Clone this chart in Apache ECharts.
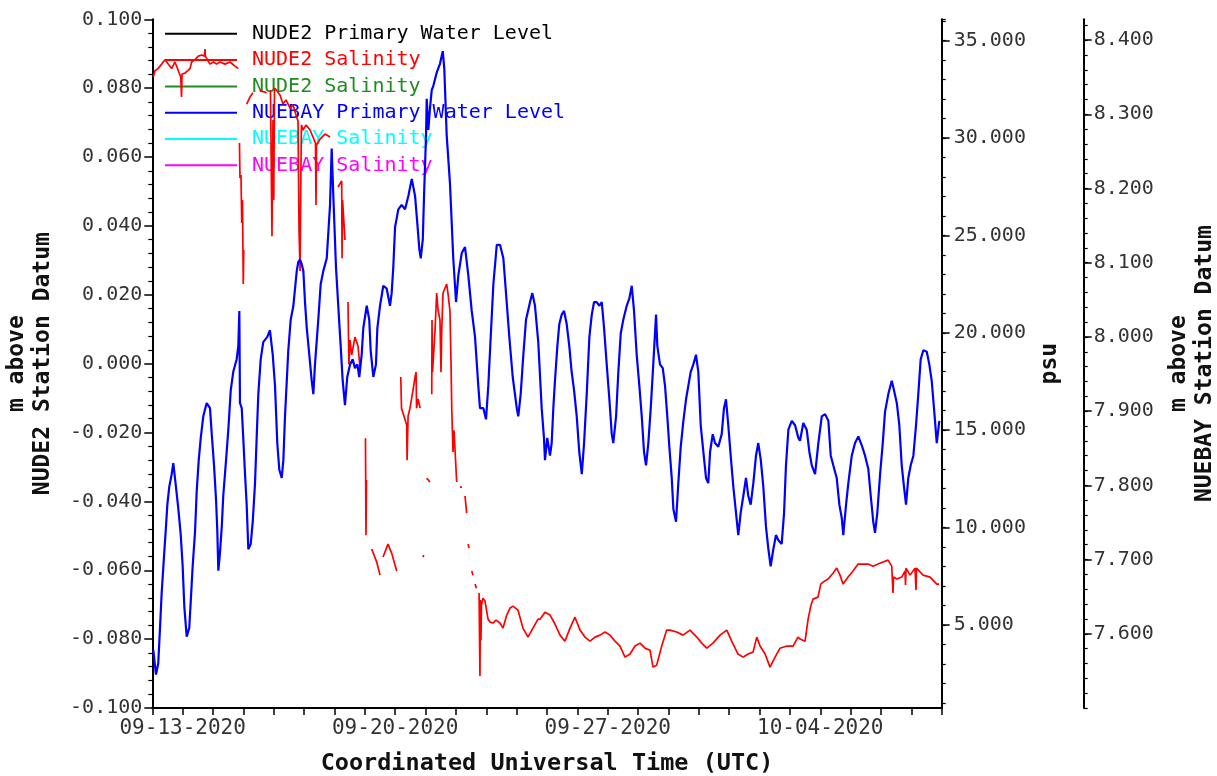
<!DOCTYPE html>
<html><head><meta charset="utf-8">
<script src="https://cdn.jsdelivr.net/npm/echarts@6/dist/echarts.min.js"></script>
<style>html,body{margin:0;padding:0;background:#fff}#c{width:1217px;height:776px}</style>
</head><body><div id="c"></div>
<script>
// ---- data (hours since 2020-09-12 00:00 UTC) ----
const blueHours = [0.8,2.9,4.7,6.1,7.4,9.2,10.8,11.9,13.4,15.3,
16.6,18.7,20.6,22.5,24.0,25.3,27.2,29.2,30.4,31.9,
33.8,35.1,36.7,38.3,40.3,43.0,45.6,47.0,48.8,50.4,
51.4,52.2,53.5,54.9,56.1,58.3,60.1,62.0,64.0,66.7,
68.0,68.8,69.3,70.7,71.9,73.3,74.6,75.9,77.8,79.4,
81.2,82.5,83.8,85.7,87.7,90.9,93.0,95.2,97.0,98.8,
100.4,102.3,103.6,104.9,107.5,109.4,111.5,114.2,115.4,116.8,
118.1,119.4,120.7,122.1,124.1,126.0,127.3,128.6,131.2,133.1,
135.2,137.9,140.5,141.8,143.1,145.2,147.0,148.9,150.5,152.3,
154.1,156.3,158.4,160.2,162.1,163.6,165.5,166.8,169.5,171.5,
172.6,174.7,176.8,177.9,180.0,182.6,185.3,187.9,189.2,190.5,
191.9,194.5,197.1,199.8,202.4,205.1,207.7,209.5,211.1,212.2,
213.8,214.8,216.4,216.9,218.2,219.5,220.9,222.1,224.8,227.4,
229.6,230.8,232.7,235.3,236.7,237.9,240.1,241.9,244.6,247.2,
249.8,252.5,255.1,257.7,259.0,261.7,263.8,265.6,267.5,269.6,
272.3,274.9,277.5,279.6,282.2,284.9,288.1,289.3,291.2,293.3,
295.4,298.6,300.4,302.5,305.1,307.8,309.6,310.4,312.2,314.4,
315.7,317.0,318.3,320.2,321.7,323.6,325.5,327.6,329.6,331.5,
333.4,335.5,337.5,339.5,341.3,343.4,345.5,347.4,349.2,351.3,
353.4,355.3,357.1,359.2,361.3,363.2,364.4,366.6,368.4,370.3,
372.3,375.0,377.1,379.0,380.8,382.9,385.0,386.9,388.7,390.3,
392.1,394.0,396.0,398.2,399.2,401.3,403.5,405.3,407.1,408.7,
410.6,411.9,414.0,415.8,417.7,419.8,421.9,423.7,425.6,427.7,
429.8,431.6,433.5,435.6,437.7,439.5,440.9,443.0,444.8,447.4,
450.1,451.9,453.5,455.3,457.2,459.3,461.4,463.2,465.1,467.2,
469.3,471.1,473.0,475.1,477.2,479.0,481.0,483.0,485.1,487.0,
488.8,490.9,493.0,494.9,497.5,499.4,500.9,502.8,505.5,508.1,
510.7,512.0,514.6,517.3,519.4,521.3,523.9,526.5,529.2,531.8,
534.4,536.3,538.3,541.0,543.1,545.0,546.2,548.4,550.2,552.9,
555.5,558.1,560.8,563.4,566.0,567.9,569.9,571.3,573.1,575.3,
577.4,579.2,581.8,584.5,586.3,588.5,590.5,592.4,594.2,595.8,
597.6,599.5,601.6,603.7,605.5,607.4,609.5,612.2,614.2,616.1,
617.9,620.1,622.1];
// NUEBAY Primary Water Level (m above NUEBAY Station Datum)
const blueLevel = [7.578,7.545,7.560,7.608,7.655,7.703,7.744,7.774,7.798,7.815,
7.830,7.798,7.768,7.733,7.691,7.637,7.596,7.608,7.644,7.691,
7.738,7.792,7.834,7.864,7.893,7.911,7.904,7.869,7.827,7.780,
7.738,7.685,7.709,7.744,7.786,7.834,7.875,7.928,7.953,7.970,
7.988,8.035,7.911,7.904,7.864,7.815,7.774,7.714,7.721,7.751,
7.803,7.864,7.923,7.970,7.993,8.000,8.009,7.976,7.934,7.857,
7.821,7.810,7.834,7.893,7.982,8.023,8.042,8.089,8.101,8.104,
8.098,8.089,8.047,8.012,7.976,7.941,7.923,7.963,8.023,8.071,
8.089,8.106,8.178,8.254,8.190,8.094,8.042,7.988,7.941,7.908,
7.946,7.963,7.970,7.958,7.963,7.946,7.976,8.012,8.042,8.023,
7.982,7.946,7.963,8.012,8.042,8.069,8.065,8.042,8.059,8.094,
8.148,8.172,8.178,8.172,8.190,8.213,8.190,8.153,8.118,8.106,
8.131,8.190,8.272,8.321,8.279,8.308,8.333,8.338,8.356,8.368,
8.385,8.362,8.272,8.207,8.153,8.106,8.047,8.083,8.113,8.121,
8.083,8.035,8.000,7.934,7.904,7.904,7.889,7.934,8.000,8.071,
8.124,8.124,8.106,8.059,8.000,7.946,7.904,7.893,7.923,7.976,
8.023,8.047,8.059,8.042,7.993,7.904,7.864,7.834,7.864,7.840,
7.857,7.904,7.941,7.988,8.017,8.030,8.035,8.017,7.988,7.953,
7.928,7.893,7.845,7.815,7.857,7.923,8.000,8.030,8.047,8.047,
8.042,8.047,8.012,7.963,7.916,7.869,7.857,7.893,7.953,8.005,
8.023,8.042,8.052,8.069,8.035,7.976,7.934,7.893,7.845,7.827,
7.857,7.904,7.963,8.030,7.988,7.963,7.958,7.934,7.893,7.852,
7.810,7.768,7.751,7.803,7.852,7.887,7.916,7.934,7.953,7.963,
7.976,7.953,7.881,7.845,7.810,7.803,7.845,7.869,7.857,7.852,
7.869,7.904,7.916,7.881,7.840,7.798,7.763,7.733,7.763,7.786,
7.810,7.786,7.774,7.803,7.840,7.857,7.834,7.798,7.744,7.714,
7.691,7.714,7.733,7.726,7.721,7.763,7.827,7.875,7.887,7.881,
7.864,7.860,7.884,7.875,7.845,7.827,7.815,7.857,7.893,7.896,
7.887,7.840,7.827,7.810,7.774,7.756,7.733,7.774,7.803,7.840,
7.857,7.866,7.854,7.840,7.822,7.786,7.751,7.736,7.763,7.815,
7.857,7.899,7.923,7.941,7.928,7.911,7.881,7.827,7.798,7.774,
7.810,7.827,7.840,7.881,7.923,7.970,7.982,7.980,7.963,7.941,
7.904,7.857,7.887];
// NUDE2 Salinity (psu); null = gap in record
const redHours = [0.8,2.1,4.5,7.4,10.0,12.6,15.3,17.9,20.6,22.5,23.1,23.5,25.8,29.8,31.1,33.8,36.4,39.1,41.3,41.7,41.9,45.6,48.2,50.9,53.5,57.5,61.4,65.4,68.0,null,
68.9,69.3,70.1,70.7,71.3,71.9,72.3,null,
74.6,77.2,79.6,null,85.1,90.4,null,
93.4,94.6,95.4,96.0,96.6,98.3,100.9,103.3,105.7,108.9,111.2,114.1,115.2,116.0,116.8,117.4,117.9,119.1,121.5,124.7,127.0,129.0,129.4,129.8,132.6,136.5,140.5,null,
146.8,149.7,150.0,150.4,152.3,null,
154.7,155.4,156.3,157.6,160.2,162.6,164.2,null,
168.5,168.9,169.3,null,
173.4,175.3,177.4,180.0,null,182.4,186.3,189.2,193.2,null,
196.4,197.0,198.2,201.1,201.4,202.2,203.7,206.1,207.7,208.5,208.9,210.1,211.7,null,
213.9,214.7,null,216.9,219.5,null,
220.9,221.1,221.5,223.5,224.8,225.9,227.4,228.2,228.8,229.8,231.4,232.7,233.7,235.3,236.1,236.7,237.7,238.5,240.6,null,
243.2,244.8,null,247.2,248.5,null,249.6,250.4,null,252.5,253.5,null,255.1,256.3,null,
258.3,259.0,259.4,259.8,260.2,261.4,263.0,265.4,267.0,269.3,
271.7,274.9,277.2,280.2,282.8,285.1,289.1,293.0,297.0,300.9,
304.9,306.5,310.4,314.4,318.3,322.3,326.2,330.2,334.1,338.1,
342.0,346.0,349.9,353.9,357.9,361.8,365.8,369.7,373.7,377.6,
381.6,385.5,389.5,393.4,395.8,398.7,402.7,406.6,409.2,414.5,
419.5,425.0,430.4,434.3,438.3,443.2,448.8,454.1,458.0,463.0,
467.0,470.9,474.9,477.8,480.4,484.4,488.3,492.3,496.2,501.5,
506.5,510.4,512.0,516.0,518.4,520.5,522.3,526.2,528.4,530.2,
534.2,538.1,541.0,543.6,546.0,550.0,553.9,557.9,561.8,565.8,
569.7,573.7,577.6,581.6,584.5,585.5,585.9,588.4,592.4,595.0,
595.4,595.8,599.0,602.9,603.7,604.1,605.3,609.3,614.8,620.1,
621.9];
const redPsu = [33.13,33.45,33.56,33.79,34.02,33.79,33.56,33.90,33.45,33.13,32.10,33.28,33.33,33.56,33.90,34.02,34.20,34.26,34.20,34.56,34.20,33.79,33.90,33.79,33.90,33.79,33.90,33.69,33.56,null,
29.74,27.94,28.10,25.63,26.81,22.50,24.25,null,
31.74,32.10,32.32,null,32.43,32.32,null,
32.46,24.96,30.92,26.81,32.56,32.43,32.20,31.74,31.95,31.53,31.70,31.07,30.87,25.22,23.17,27.84,30.66,30.41,30.66,30.41,30.05,29.74,26.56,29.64,29.94,30.20,30.05,null,
27.48,27.79,23.83,26.81,24.76,null,
21.58,18.39,19.63,18.86,19.78,19.32,18.19,null,
14.59,9.61,12.44,null,
8.90,8.59,8.23,7.56,null,8.49,9.15,8.69,7.77,null,
17.73,16.13,16.13,15.26,13.46,15.72,16.13,17.06,17.73,17.98,16.13,16.60,16.13,null,
8.49,8.59,null,12.54,12.34,null,
16.85,20.65,17.98,20.14,22.04,21.17,20.65,17.98,20.14,22.04,22.30,22.50,22.04,21.11,18.60,16.13,13.88,15.00,12.34,null,
12.08,12.08,null,11.62,10.74,null,9.15,8.95,null,7.77,7.56,null,7.10,6.89,null,
6.64,2.38,6.28,4.22,6.02,6.38,6.23,5.30,5.15,5.10,
5.25,5.10,4.84,5.51,5.87,5.97,5.76,4.84,4.38,4.84,
5.30,5.30,5.66,5.51,5.05,4.48,4.17,4.84,5.40,4.74,
4.38,4.17,4.38,4.48,4.64,4.48,4.17,3.92,3.35,3.51,
3.92,4.07,3.81,3.71,2.84,2.94,3.92,4.74,4.74,4.64,
4.48,4.74,4.38,4.07,3.81,4.07,4.48,4.74,4.17,3.51,
3.35,3.51,3.61,4.38,3.92,3.51,2.84,3.35,3.81,3.92,
3.92,4.38,4.28,4.17,5.30,5.97,6.33,6.43,7.10,7.20,
7.36,7.66,7.92,7.56,7.10,7.46,7.77,8.13,8.13,8.13,
8.02,8.13,8.23,8.33,8.02,6.64,7.46,7.36,7.46,7.77,
7.05,7.92,7.56,7.92,6.79,7.92,8.02,7.56,7.46,7.10,
7.10];
const seriesNames = ['NUDE2 Primary Water Level','NUDE2 Salinity','NUDE2 Salinity\u200b','NUEBAY Primary Water Level','NUEBAY Salinity','NUEBAY Salinity\u200b'];
const seriesColors = ['#000000','#ff0000','#1e8c1e','#0000ff','#00ffff','#ff00ff'];
const xLabelDays = ['2020-09-13','2020-09-20','2020-09-27','2020-10-04'];
const leftTicks = [-0.1, 0.1, 0.02];            // min, max, step
const psuLabels = [5,10,15,20,25,30,35];
const nuebayLabels = [7.6,7.7,7.8,7.9,8.0,8.1,8.2,8.3,8.4];

// ---- build ----
const START = Date.UTC(2020, 8, 12);
const HOUR = 3600 * 1000, DAY = 24 * HOUR;
const toT = h => START + h * HOUR;
const n = Math.min(blueHours.length, blueLevel.length);
const blueData = [];
for (let i = 0; i < n; i++) blueData.push([toT(blueHours[i]), blueLevel[i]]);
const redData = [];
let prev = 0;
for (let i = 0; i < Math.min(redHours.length, redPsu.length); i++) {
  if (redPsu[i] === null || redHours[i] === null) redData.push([toT(prev + 0.05), '-']);
  else { prev = redHours[i]; redData.push([toT(redHours[i]), redPsu[i]]); }
}
const xLabelVals = xLabelDays.map(s => Date.parse(s + 'T00:00:00Z'));
const pad = v => (v < 10 ? '0' : '') + v;
const fmtDate = v => { const d = new Date(v); return pad(d.getUTCMonth() + 1) + '-' + pad(d.getUTCDate()) + '-' + d.getUTCFullYear(); };
const psuMinor = []; for (let v = 1; v <= 36; v++) psuMinor.push(v);
const nbMinor = []; for (let k = 0; k <= 46; k++) nbMinor.push(+(7.5 + k * 0.02).toFixed(2));

const MONO = '"DejaVu Sans Mono", "Liberation Mono", monospace';
const lab = { fontFamily: MONO, fontSize: 20, color: '#333' };
const nameStyle = { fontFamily: MONO, fontSize: 23, fontWeight: 'bold', color: '#111', lineHeight: 26 };
const axLine = { show: true, onZero: false, lineStyle: { color: '#000', width: 2 } };
const PSU_MIN = 0.74, PSU_MAX = 36.09, NB_MIN = 7.5, NB_MAX = 8.428, NB_OFF = 142;

const chart = echarts.init(document.getElementById('c'), null, { renderer: 'canvas' });
const series = seriesNames.map((name, i) => ({
  name, type: 'line', symbol: 'none', showSymbol: false, animation: false,
  yAxisIndex: i === 1 ? 1 : (i === 3 ? 3 : 0),
  data: i === 1 ? redData : (i === 3 ? blueData : []),
  lineStyle: { color: seriesColors[i], width: i === 3 ? 2.2 : 1.7 },
  itemStyle: { color: seriesColors[i] },
  connectNulls: false,
  z: i === 3 ? 4 : 3
}));

chart.setOption({
  backgroundColor: '#fff',
  animation: false,
  grid: { left: 152.3, right: 275.3, top: 19.3, bottom: 68, containLabel: false, outerBoundsMode: 'none' },
  legend: {
    orient: 'vertical', left: 160, top: 18.8, z: 1,
    icon: 'rect', itemWidth: 72, itemHeight: 2, itemGap: 6.3, selectedMode: false,
    data: seriesNames.map((name, i) => ({ name, textStyle: { color: seriesColors[i] } })),
    textStyle: { fontFamily: MONO, fontSize: 20, lineHeight: 20, padding: [0, 0, 0, 10] }
  },
  xAxis: {
    type: 'value', min: START, max: START + 26 * DAY, interval: DAY,
    axisLine: axLine,
    axisTick: { show: true, length: 7, lineStyle: { color: '#000', width: 1.5 } },
    axisLabel: { formatter: v => (xLabelVals.some(t => Math.abs(t - v) < HOUR) ? fmtDate(v) : ''),
      fontFamily: MONO, fontSize: 21, color: '#333', margin: 10, hideOverlap: false, showMinLabel: true, showMaxLabel: true },
    splitLine: { show: false },
    name: 'Coordinated Universal Time (UTC)', nameLocation: 'middle', nameGap: 43,
    nameTextStyle: Object.assign({}, nameStyle, { fontSize: 23.5 })
  },
  yAxis: [
    { type: 'value', position: 'left', min: leftTicks[0], max: leftTicks[1], interval: leftTicks[2],
      axisLine: axLine, axisTick: { show: true, length: 8, lineStyle: { color: '#000', width: 1.5 } },
      minorTick: { show: true, splitNumber: 5, length: 4, lineStyle: { color: '#000', width: 1.2 } },
      axisLabel: Object.assign({ formatter: v => v.toFixed(3), margin: 10, showMinLabel: true, showMaxLabel: true }, lab),
      splitLine: { show: false },
      name: 'm above\nNUDE2 Station Datum', nameLocation: 'middle', nameRotate: 90, nameGap: 96, nameTextStyle: nameStyle },
    { type: 'value', position: 'right', offset: 0, min: PSU_MIN, max: PSU_MAX,
      axisLine: axLine,
      axisTick: { show: true, length: 8, customValues: psuLabels, lineStyle: { color: '#000', width: 1.5 } },
      axisLabel: Object.assign({ customValues: psuLabels, formatter: v => v.toFixed(3), margin: 12 }, lab),
      splitLine: { show: false },
      name: 'psu', nameLocation: 'middle', nameRotate: 90, nameGap: 92, nameTextStyle: nameStyle },
    { type: 'value', position: 'right', offset: 0, min: PSU_MIN, max: PSU_MAX,
      axisLine: { show: false }, axisLabel: { show: false }, splitLine: { show: false },
      axisTick: { show: true, length: 4, customValues: psuMinor.concat([PSU_MAX]), lineStyle: { color: '#000', width: 1.2 } } },
    { type: 'value', position: 'right', offset: NB_OFF, min: NB_MIN, max: NB_MAX,
      axisLine: axLine,
      axisTick: { show: true, length: 8, customValues: nuebayLabels, lineStyle: { color: '#000', width: 1.5 } },
      axisLabel: Object.assign({ customValues: nuebayLabels, formatter: v => v.toFixed(3), margin: 10 }, lab),
      splitLine: { show: false },
      name: 'm above\nNUEBAY Station Datum', nameLocation: 'middle', nameRotate: 90, nameGap: 82, nameTextStyle: nameStyle },
    { type: 'value', position: 'right', offset: NB_OFF, min: NB_MIN, max: NB_MAX,
      axisLine: { show: false }, axisLabel: { show: false }, splitLine: { show: false },
      axisTick: { show: true, length: 4, customValues: nbMinor, lineStyle: { color: '#000', width: 1.2 } } }
  ],
  series
});
</script></body></html>
